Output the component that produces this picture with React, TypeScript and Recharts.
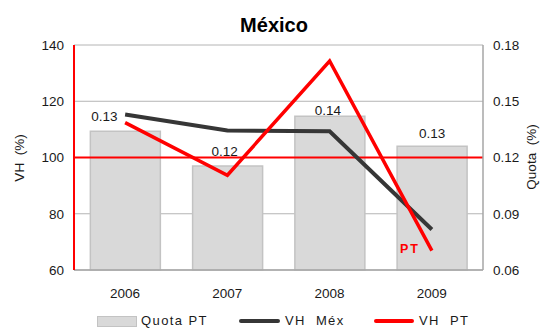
import React from "react";
import {
  ComposedChart, Bar, Line, XAxis, YAxis, CartesianGrid,
  ReferenceLine, LabelList
} from "recharts";

const YEARS = ["2006", "2007", "2008", "2009"];
const QUOTA_PT = [0.134, 0.1155, 0.142, 0.126];
const VH_MEX = [115.3, 109.6, 109.3, 74.4];
const VH_PT = [112.4, 93.7, 134.3, 66.9];
const VH_TICKS = [60, 80, 100, 120, 140];
const QUOTA_TICKS = [0.06, 0.09, 0.12, 0.15, 0.18];

const FONT = "'Liberation Sans', Arial, sans-serif";
const DARK = "#363636";
const RED = "#ff0000";

// hand-placed label nudges, like the Excel original
const LABEL_SHIFT = [[-21, -15], [-3, -14], [-2, -6], [0, -13]];

const data = YEARS.map((year, i) => ({
  year, quota: QUOTA_PT[i], vhMex: VH_MEX[i], vhPt: VH_PT[i],
}));

const QuotaLabel = (p: any) => {
  const [dx, dy] = LABEL_SHIFT[p.index] || [0, -12];
  return (
    <text x={p.x + p.width / 2 + dx} y={p.y + dy} textAnchor="middle"
      dominantBaseline="central" fontSize={13.5} fill="#1a1a1a" fontFamily={FONT}>
      {Number(p.value).toFixed(2)}
    </text>
  );
};

const PtLabel = (p: any) => {
  if (p.index !== YEARS.length - 1) return null;
  return (
    <text x={p.x - 22} y={p.y - 2} textAnchor="middle" dominantBaseline="central"
      fontSize={12.5} fontWeight="bold" fill={RED} letterSpacing={2} fontFamily={FONT}>
      PT
    </text>
  );
};

const AxisTitle = ({ x, y, text }: { x: number; y: number; text: string }) => (
  <text x={x} y={y} transform={`rotate(-90 ${x} ${y})`} textAnchor="middle"
    dominantBaseline="central" fontSize={13.5} fill="#1a1a1a" fontFamily={FONT}
    style={{ whiteSpace: "pre" }}>
    {text}
  </text>
);

const tick = { fill: "#1a1a1a", fontSize: 13.5, fontFamily: FONT };

const legendText = {
  position: "absolute" as const, top: 314, fontSize: 13, lineHeight: "13px",
  letterSpacing: 1.4, color: "#1a1a1a", whiteSpace: "pre" as const,
};

export default function App() {
  return (
    <div style={{ position: "absolute", left: 0, top: 0, width: 541, height: 329,
      overflow: "hidden", background: "#fff", fontFamily: FONT }}>
      <div style={{ position: "absolute", left: 274, top: 15, transform: "translateX(-50%)",
        fontSize: 20, lineHeight: "20px", fontWeight: "bold", color: "#000" }}>
        México
      </div>

      <ComposedChart width={541} height={329} data={data}
        margin={{ top: 45, right: 0, bottom: 29, left: 0 }} barCategoryGap="16%">
        <CartesianGrid vertical={false} stroke="#b4b4b4" yAxisId="vh" />
        <XAxis dataKey="year" height={30} tickLine={false} tickSize={0} tickMargin={18}
          axisLine={{ stroke: "#a6a6a6", strokeWidth: 1.5 }} tick={tick} />
        <YAxis yAxisId="vh" width={74} domain={[60, 140]} ticks={VH_TICKS}
          tickLine={false} tickSize={0} tickMargin={10}
          axisLine={{ stroke: RED, strokeWidth: 2 }} tick={tick}
          label={() => <AxisTitle x={19} y={158} text="VH  (%)" />} />
        <YAxis yAxisId="quota" orientation="right" width={58} domain={[0.06, 0.18]}
          ticks={QUOTA_TICKS} tickLine={false} tickSize={0} tickMargin={10}
          axisLine={{ stroke: "#a6a6a6", strokeWidth: 1.5 }} tick={tick}
          tickFormatter={(v: number) => v.toFixed(2)}
          label={() => <AxisTitle x={531} y={157} text="Quota  (%)" />} />
        <Bar yAxisId="quota" dataKey="quota" fill="#d9d9d9" stroke="#c3c3c3"
          strokeWidth={1.5} isAnimationActive={false}>
          <LabelList dataKey="quota" content={QuotaLabel} />
        </Bar>
        <ReferenceLine yAxisId="vh" y={100} stroke={RED} strokeWidth={2} />
        <Line yAxisId="vh" dataKey="vhMex" stroke={DARK} strokeWidth={4}
          dot={false} isAnimationActive={false} />
        <Line yAxisId="vh" dataKey="vhPt" stroke={RED} strokeWidth={3.5}
          dot={false} isAnimationActive={false}>
          <LabelList dataKey="vhPt" content={PtLabel} />
        </Line>
      </ComposedChart>

      {/* legend */}
      <div style={{ position: "absolute", left: 97, top: 316, width: 38, height: 9,
        background: "#d9d9d9", border: "1px solid #c3c3c3" }} />
      <span style={{ ...legendText, left: 141 }}>Quota PT</span>
      <div style={{ position: "absolute", left: 239, top: 319, width: 41, height: 4,
        background: DARK, borderRadius: 2 }} />
      <span style={{ ...legendText, left: 285 }}>VH  Méx</span>
      <div style={{ position: "absolute", left: 374, top: 319, width: 40, height: 4,
        background: RED, borderRadius: 2 }} />
      <span style={{ ...legendText, left: 419 }}>VH  PT</span>
    </div>
  );
}
